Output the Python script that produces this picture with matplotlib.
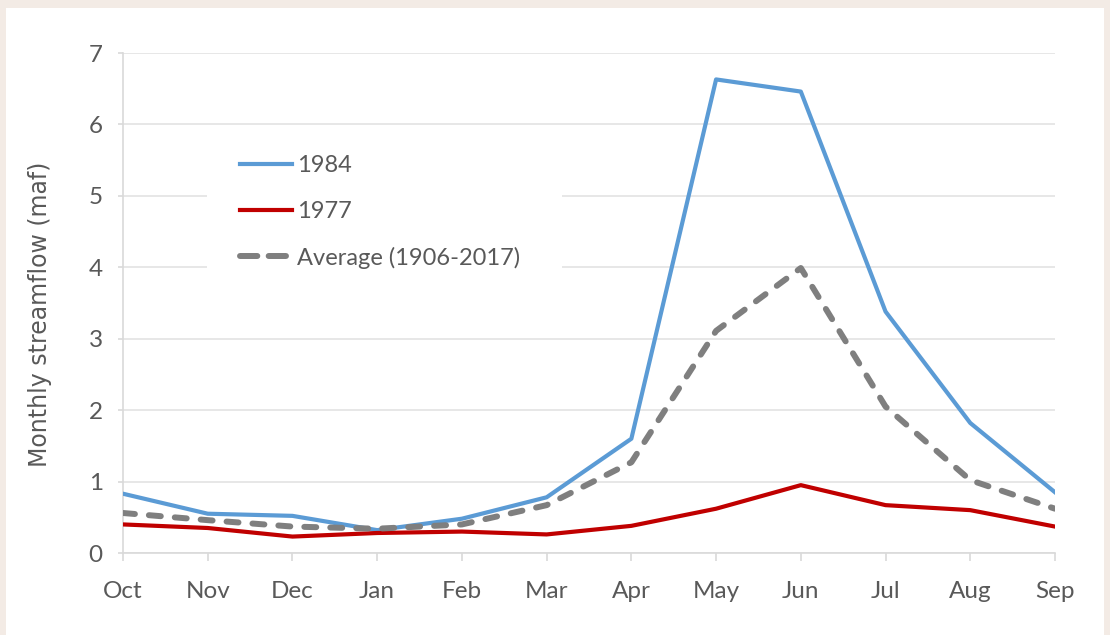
import numpy as np
import matplotlib
matplotlib.use("Agg")
from matplotlib import pyplot as plt
from matplotlib.patches import Rectangle
from matplotlib.lines import Line2D

# Datos
meses = ['Oct', 'Nov', 'Dec', 'Jan', 'Feb', 'Mar', 'Apr', 'May', 'Jun', 'Jul', 'Aug', 'Sep']
flujo_1984 = [0.83, 0.55, 0.52, 0.32, 0.48, 0.78, 1.60, 6.63, 6.46, 3.38, 1.82, 0.85]
flujo_1977 = [0.40, 0.35, 0.23, 0.28, 0.30, 0.26, 0.38, 0.62, 0.95, 0.67, 0.60, 0.37]
promedio = [0.56, 0.46, 0.37, 0.34, 0.40, 0.67, 1.27, 3.11, 3.99, 2.05, 1.02, 0.62]

plt.rcParams['font.family'] = ['Lato', 'DejaVu Sans']
gris_texto = '#595959'
gris_eje = '#d9d9d9'

fig = plt.figure(figsize=(11.1, 6.35), dpi=100)
fig.patch.set_facecolor('#f3ebe5')
# panel blanco
fig.patches.append(Rectangle((6 / 1110, 0), (1104 - 6) / 1110, (635 - 8) / 635,
                             transform=fig.transFigure, facecolor='white',
                             edgecolor='none', zorder=-10))

ax = fig.add_axes([123 / 1110, 1 - 553 / 635, (1055 - 123) / 1110, (553 - 53) / 635])
ax.set_facecolor('none')

x = np.arange(len(meses))
l1, = ax.plot(x, flujo_1984, color='#5b9bd5', lw=3.0, label='1984', zorder=3)
l2, = ax.plot(x, flujo_1977, color='#c00000', lw=3.0, label='1977', zorder=3)
ax.plot(x, promedio, color='#7f7f7f', lw=4.3, ls=(0, (2.0, 2.35)), dash_capstyle='round',
        label='Average (1906-2017)', zorder=3)

ax.set_xlim(0, len(meses) - 1)
ax.set_ylim(0, 7)
ax.set_xticks(x)
ax.set_xticklabels(meses)
ax.set_yticks(range(0, 8))
ax.grid(axis='y', color='#e3e3e3', lw=1.2)
ax.set_axisbelow(True)

for s in ['top', 'right']:
    ax.spines[s].set_visible(False)
for s in ['left', 'bottom']:
    ax.spines[s].set_color(gris_eje)
    ax.spines[s].set_linewidth(1.2)

ax.tick_params(axis='both', colors=gris_eje, labelcolor=gris_texto, labelsize=17.5, width=1.2)
ax.tick_params(axis='x', length=5.8, pad=14)
ax.tick_params(axis='y', length=3.6, pad=11)

ax.set_ylabel('Monthly streamflow (maf)', fontsize=17, color=gris_texto,
              family=['DejaVu Sans'])
ax.yaxis.set_label_coords(-0.076, 0.478)

# fondo blanco de la leyenda
ax.add_patch(Rectangle((0.090, 0.562), 0.381, 0.28, transform=ax.transAxes,
                       facecolor='white', edgecolor='none', zorder=1))
# en la leyenda la linea discontinua se ve con dos trazos
l3 = Line2D([], [], color='#7f7f7f', lw=4.3, ls=(0, (2.9, 1.9)), dash_capstyle='round')
leg = ax.legend([l1, l2, l3], ['1984', '1977', 'Average (1906-2017)'],
                loc='upper left', bbox_to_anchor=(0.1255, 0.796), frameon=False,
                fontsize=17, handlelength=2.2, handletextpad=0.21, labelspacing=1.05,
                borderpad=0, borderaxespad=0)
for t in leg.get_texts():
    t.set_color(gris_texto)

fig.savefig('out.png', dpi=100, facecolor=fig.get_facecolor())
